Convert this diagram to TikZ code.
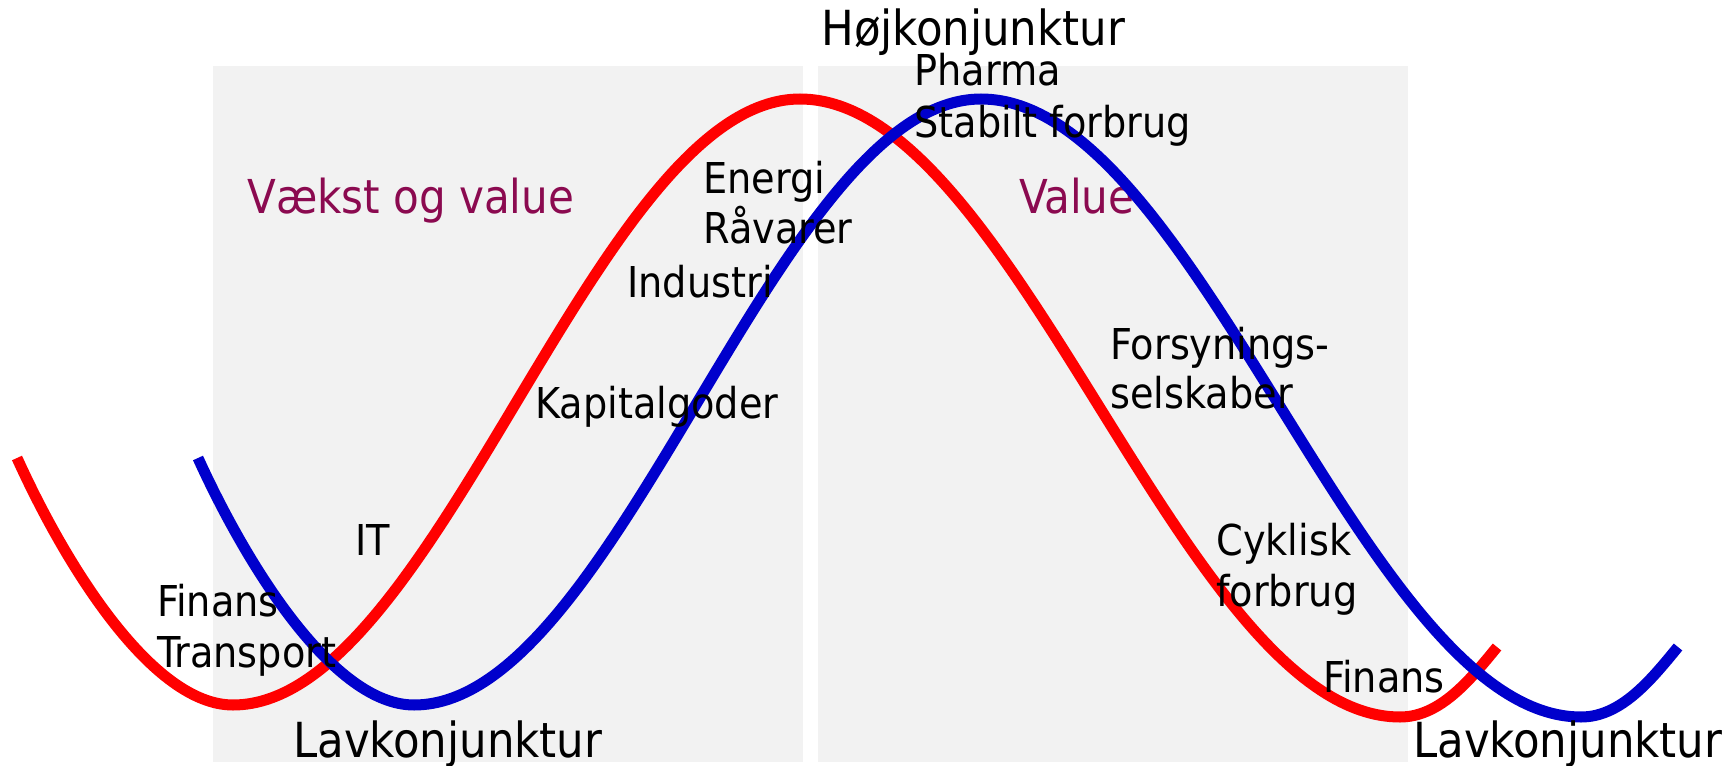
\documentclass[tikz,border=0pt]{standalone}
\usepackage{fontspec}
\setmainfont{DejaVu Sans Condensed}
\usetikzlibrary{positioning}
\definecolor{cycred}{HTML}{FF0000}
\definecolor{cycblue}{HTML}{0000CC}
\definecolor{panelgray}{HTML}{F2F2F2}
\definecolor{regionpurple}{HTML}{8B0A50}

\begin{document}
\begin{tikzpicture}[x=0.2mm, y=-0.2mm,
    sector/.style={anchor=base west, inner sep=0pt, font=\fontsize{24.2}{29}\selectfont},
    phase/.style={anchor=base west, inner sep=0pt, font=\fontsize{27.5}{33}\selectfont},
    region/.style={anchor=base west, inner sep=0pt, text=regionpurple, font=\fontsize{26.6}{32}\selectfont},
    wave/.style={line width=2.2mm}]
  \useasboundingbox (0,0) rectangle (1735,766);

  % Panels
  \fill[panelgray] (213,66) rectangle (803,762);
  \fill[panelgray] (818,66) rectangle (1408,762);
  \node[region] (vaekst) at (247,213) {Vækst og value};
  \node[region] (value) at (1019,213) {Value};

  % Cycles (blue lags red)
  \foreach \col/\dx in {cycred/0, cycblue/181}
    \draw[wave, \col, shift={(\dx,0)}] (17,458) .. controls (67,568) and (153,705) .. (233,705)
      .. controls (437,705) and (596,99) .. (800,99)
      .. controls (1016,99) and (1184,717) .. (1400,717)
      .. controls (1440,717) and (1470,680) .. (1497,647);

  % Phases
  \node[phase] (hoej) at (821,46) {Højkonjunktur};
  \node[phase] (lavA) at (293,757) {Lavkonjunktur};
  \node[phase] (lavB) at (1413,757) {Lavkonjunktur};

  % Sectors
  \node[sector] (pharma) at (914,86) {Pharma};
  \node[sector] (stabilt) at (914,138) {Stabilt forbrug};
  \node[sector] (energi) at (703,193) {Energi};
  \node[sector] (raavarer) at (703,244) {Råvarer};
  \node[sector] (industri) at (627,297) {Industri};
  \node[sector] (kapital) at (535,418) {Kapitalgoder};
  \node[sector] (it) at (355,555) {IT};
  \node[sector] (finansA) at (157,616) {Finans};
  \node[sector] (transport) at (157,667) {Transport};
  \node[sector] (forsyning) at (1110,359) {Forsynings-};
  \node[sector] (selskaber) at (1110,408) {selskaber};
  \node[sector] (cyklisk) at (1216,555) {Cyklisk};
  \node[sector] (forbrug) at (1216,606) {forbrug};
  \node[sector] (finansB) at (1323,692) {Finans};
\end{tikzpicture}
\end{document}
